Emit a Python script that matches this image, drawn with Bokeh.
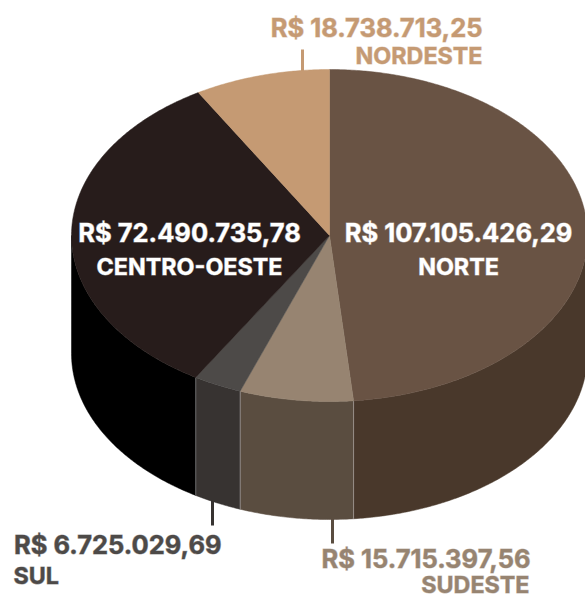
import numpy as np
from bokeh.plotting import figure
from bokeh.core.properties import value
from bokeh.embed import file_html
from bokeh.resources import INLINE

regions = ["NORTE", "SUDESTE", "SUL", "CENTRO-OESTE", "NORDESTE"]
amounts = [107105426.29, 15715397.56, 6725029.69, 72490735.78, 18738713.25]
amount_labels = ["R$ 107.105.426,29", "R$ 15.715.397,56", "R$ 6.725.029,69",
                 "R$ 72.490.735,78", "R$ 18.738.713,25"]
top_colors = ["#695344", "#978471", "#4D4A48", "#271C1B", "#C59A73"]
side_colors = ["#49382B", "#5A4D40", "#373331", "#000000", None]
label_colors = ["#FFFFFF", "#978471", "#4D4A48", "#FFFFFF", "#C59A73"]

CX, CY, RX, RY, DEPTH = 329.0, 235.0, 258.0, 166.0, 118.0
FONT = value("Inter")

p = figure(width=585, height=598, x_range=(0, 585), y_range=(598, 0),
           output_backend="svg", toolbar_location=None, min_border=0)
p.axis.visible = False
p.grid.visible = False
p.outline_line_color = None
p.background_fill_color = "white"


def pt(deg):
    a = np.radians(deg)
    return CX + RX * np.sin(a), CY - RY * np.cos(a)


def arc(a0, a1):
    n = max(2, int(abs(a1 - a0) * 2) + 1)
    return pt(np.linspace(a0, a1, n))


shares = np.array(amounts) / sum(amounts) * 360.0
edges = np.concatenate([[0.0], np.cumsum(shares)])

# leader lines
lead_x0 = [302, 212, 332]
lead_y0 = [49, 495, 515]
lead_x1 = [302, 212, 332]
lead_y1 = [72, 525, 543]
lead_c = ["#C59A73", "#373331", "#5A4D40"]
p.segment(lead_x0, lead_y0, lead_x1, lead_y1, line_color=lead_c, line_width=3)

# side walls
for i in range(len(regions)):
    a0, a1 = max(edges[i], 90.0), min(edges[i + 1], 270.0)
    if a1 <= a0:
        continue
    x, y = arc(a0, a1)
    xs = np.concatenate([x, x[::-1]])
    ys = np.concatenate([y, y[::-1] + DEPTH])
    p.patch(xs, ys, fill_color=side_colors[i], line_color=side_colors[i], line_width=0.5)
    for a in (edges[i], edges[i + 1]):
        if 90 < a < 270:
            ex, ey = pt(a)
            p.line([ex, ex], [ey, ey + DEPTH], line_color="#FFFFFF", line_alpha=0.3, line_width=1)

# top face
for i in range(len(regions)):
    x, y = arc(edges[i], edges[i + 1])
    p.patch(np.concatenate([[CX], x]), np.concatenate([[CY], y]),
            fill_color=top_colors[i], line_color=top_colors[i], line_width=0.5)

# labels: (x, y, align)
val_pos = [(458, 232, "center"), (530, 558, "right"), (221, 544, "right"),
           (189, 232, "center"), (482, 27, "right")]
name_pos = [(458, 266, "center"), (529, 584, "right"), (13, 575, "left"),
            (189, 266, "center"), (482, 55, "right")]
for i in range(len(regions)):
    p.text([val_pos[i][0]], [val_pos[i][1]], text=[amount_labels[i]], text_color=label_colors[i],
           text_font=FONT, text_font_style="bold", text_font_size="25.5px",
           text_align=val_pos[i][2], text_baseline="alphabetic",
           text_outline_color=label_colors[i] + "80")
    p.text([name_pos[i][0]], [name_pos[i][1]], text=[regions[i]], text_color=label_colors[i],
           text_font=FONT, text_font_style="bold", text_font_size="23.3px",
           text_align=name_pos[i][2], text_baseline="alphabetic",
           text_outline_color=label_colors[i] + "80")

open("out.html", "w").write(file_html(p, INLINE))
